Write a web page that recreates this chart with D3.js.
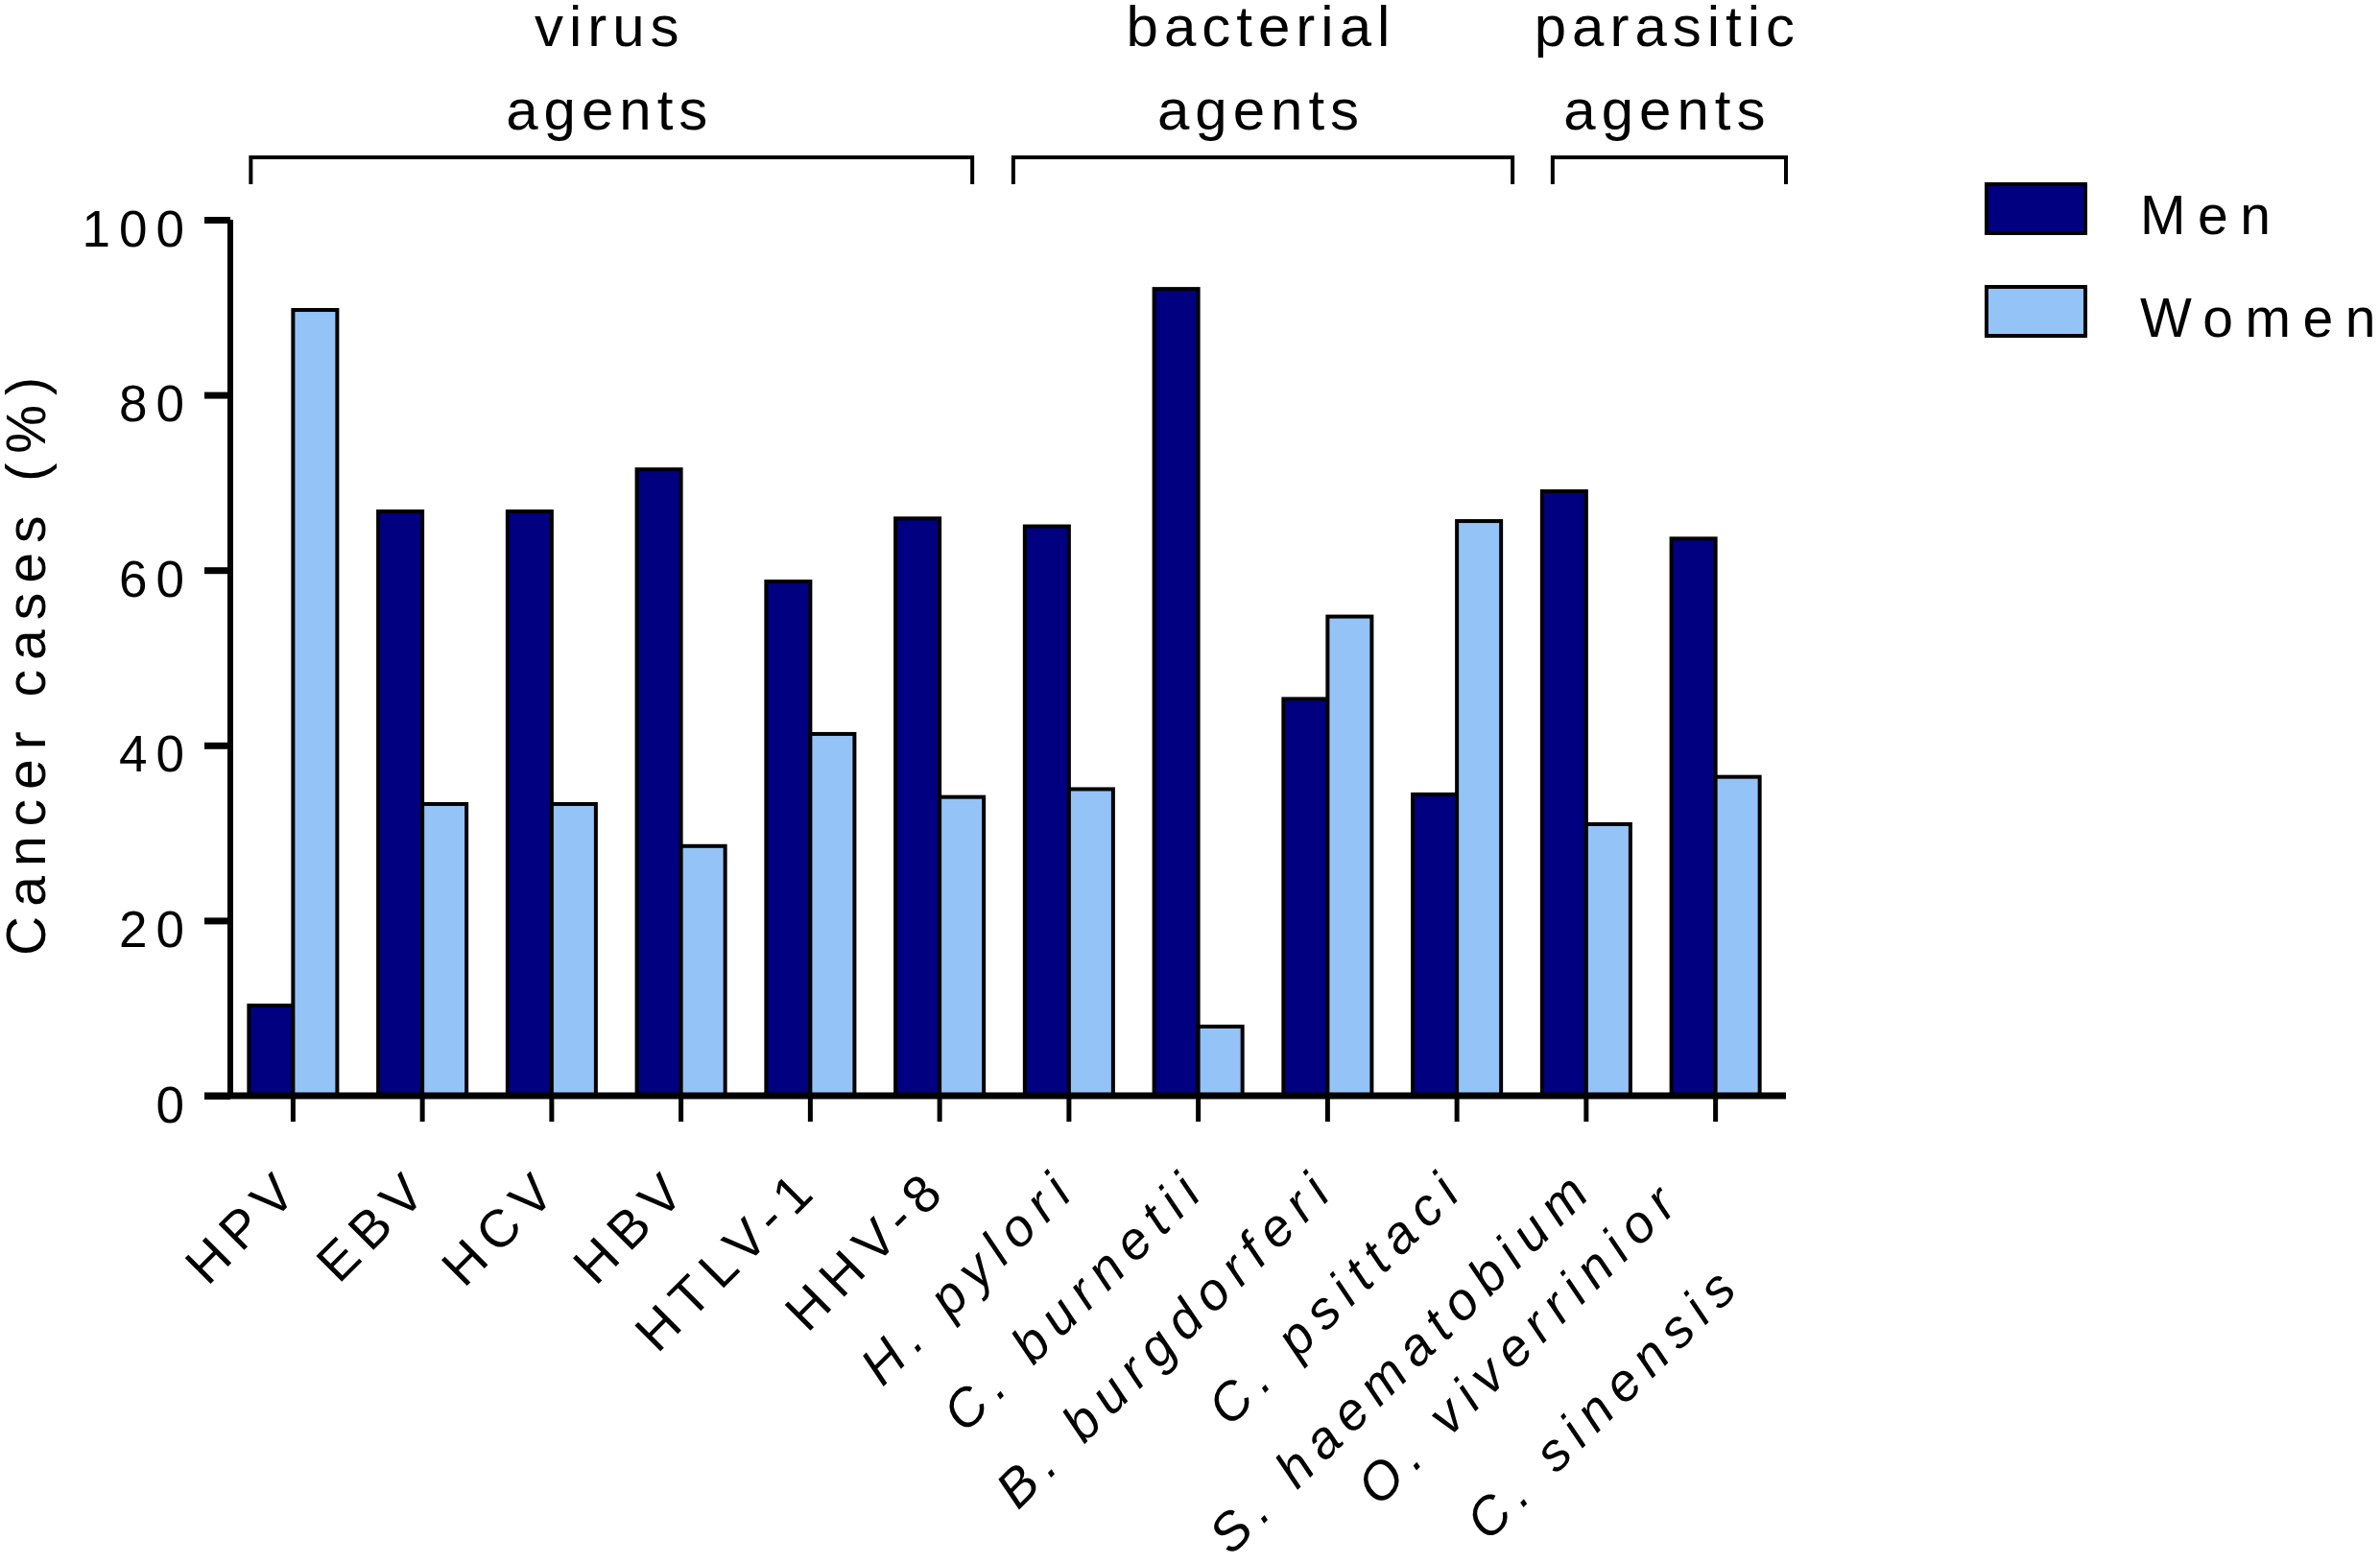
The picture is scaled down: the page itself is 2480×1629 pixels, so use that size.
<!DOCTYPE html>
<html>
<head>
<meta charset="utf-8">
<script src="https://cdn.jsdelivr.net/npm/d3@7"></script>
<style>
  body { margin: 0; background: #fff; }
  text { font-family: "Liberation Sans", Arial, Helvetica, sans-serif; fill: #000; }
</style>
</head>
<body>
<script>
/* Chart data */
var agents = ['HPV', 'EBV', 'HCV', 'HBV', 'HTLV-1', 'HHV-8',
              'H. pylori', 'C. burnetii', 'B. burgdorferi', 'C. psittaci',
              'S. haematobium', 'O. viverrinior\nC. sinensis'];
var italicLabel = [false, false, false, false, false, false,
                   true, true, true, true, true, true];
var menPct   = [10.3, 66.7, 66.7, 71.5, 58.7, 65.9, 65.0, 92.1, 45.3, 34.4, 69.0, 63.6];
var womenPct = [89.7, 33.3, 33.3, 28.5, 41.3, 34.1, 35.0,  7.9, 54.7, 65.6, 31.0, 36.4];
var seriesNames = ['Men', 'Women'];
var seriesColors = ['#000080', '#94c3f7'];
var groupLabels = [['virus', 'agents'], ['bacterial', 'agents'], ['parasitic', 'agents']];
var groupFirst = [0, 6, 10];
var groupLast  = [5, 9, 11];
var yTicks = [0, 20, 40, 60, 80, 100];
var yTitle = 'Cancer cases (%)';

/* Build rows for the grouped bars */
var rows = agents.map(function (a, i) {
    return {agent: a, values: [menPct[i], womenPct[i]]};
});

var W = 2480, H = 1629;
var margin = {top: 229, left: 240, bottom: 1142};
var tickLen = 27;

var svg = d3.select('body')
    .append('svg')
    .attr('width', W)
    .attr('height', H);

/* Scales */
var x0 = d3.scaleBand()
    .domain(agents)
    .range([238, 1855])
    .paddingInner(0.317)
    .paddingOuter(0.1585);

var x1 = d3.scaleBand()
    .domain(seriesNames)
    .range([0, x0.bandwidth()]);

var y = d3.scaleLinear()
    .domain([0, 100])
    .range([margin.bottom, margin.top]);

/* Bars */
var grp = svg.append('g')
    .selectAll('g')
    .data(rows)
    .enter()
    .append('g')
    .attr('transform', function (d) { return 'translate(' + x0(d.agent) + ',0)'; });

grp.selectAll('rect')
    .data(function (d) {
        return d.values.map(function (v, k) { return {key: seriesNames[k], k: k, v: v}; });
    })
    .enter()
    .append('rect')
    .attr('x', function (d) { return x1(d.key); })
    .attr('y', function (d) { return y(d.v); })
    .attr('width', x1.bandwidth())
    .attr('height', function (d) { return y(0) - y(d.v); })
    .attr('fill', function (d) { return seriesColors[d.k]; })
    .attr('stroke', '#000')
    .attr('stroke-width', 4);

/* Y axis */
var yAxis = svg.append('g')
    .attr('transform', 'translate(' + margin.left + ',0)')
    .call(d3.axisLeft(y).tickValues(yTicks).tickSize(tickLen).tickPadding(12));
yAxis.select('.domain')
    .attr('d', 'M0,' + y(100) + 'V' + y(0))
    .attr('stroke-width', 6);
yAxis.selectAll('.tick line').attr('stroke-width', 7);
yAxis.selectAll('.tick text')
    .attr('font-size', 53)
    .attr('letter-spacing', 9)
    .attr('dy', 27)
    .attr('font-family', '"Liberation Sans", Arial, sans-serif');

/* X axis */
var xAxis = svg.append('g')
    .attr('transform', 'translate(0,' + y(0) + ')')
    .call(d3.axisBottom(x0).tickSize(tickLen).tickFormat(''));
xAxis.select('.domain')
    .attr('d', 'M' + (margin.left - tickLen) + ',0H' + (x0.range()[1] + 6))
    .attr('stroke-width', 7);
xAxis.selectAll('.tick line').attr('stroke-width', 5);

/* Rotated category labels */
var labels = svg.append('g')
    .selectAll('text')
    .data(agents)
    .enter()
    .append('text')
    .attr('transform', function (d) {
        var cx = x0(d) + x0.bandwidth() / 2 + 12;
        return 'translate(' + cx + ',' + (y(0) + 98) + ') rotate(-45)';
    })
    .attr('text-anchor', 'end')
    .attr('font-size', 55)
    .attr('letter-spacing', 10)
    .attr('font-style', function (d, i) { return italicLabel[i] ? 'italic' : 'normal'; });

labels.each(function (d) {
    var lines = d.split('\n');
    var t = d3.select(this);
    if (lines.length === 1) {
        t.text(d);
    } else {
        // two-line label, second line set lower and a little back
        t.append('tspan').attr('x', -39).attr('y', -22).text(lines[0]);
        t.append('tspan').attr('x', -57).attr('y', 84).text(lines[1]);
    }
});

/* Y axis title */
svg.append('text')
    .attr('transform', 'translate(47,' + ((y(0) + y(100)) / 2 + 4) + ') rotate(-90)')
    .attr('text-anchor', 'middle')
    .attr('font-size', 57)
    .attr('letter-spacing', 10)
    .text(yTitle);

/* Group brackets with labels above (small hand offsets as in the figure) */
var bracketY = 164, bracketDrop = 28;
var bracketTrim = [[2, -12], [-12, 12], [11, 0]];
groupLabels.forEach(function (lab, g) {
    var left = x0(agents[groupFirst[g]]) + bracketTrim[g][0];
    var right = x0(agents[groupLast[g]]) + x0.bandwidth() + bracketTrim[g][1];
    if (g === groupLabels.length - 1) right = x0.range()[1] + 6;
    svg.append('path')
        .attr('d', 'M' + left + ',' + (bracketY + bracketDrop) + 'V' + bracketY +
              'H' + right + 'V' + (bracketY + bracketDrop))
        .attr('fill', 'none')
        .attr('stroke', '#000')
        .attr('stroke-width', 4);
    var mid = (left + right) / 2 - 2;
    svg.append('text')
        .attr('x', mid).attr('y', 48)
        .attr('text-anchor', 'middle')
        .attr('font-size', 60)
        .attr('letter-spacing', 6)
        .text(lab[0]);
    svg.append('text')
        .attr('x', mid).attr('y', 135)
        .attr('text-anchor', 'middle')
        .attr('font-size', 60)
        .attr('letter-spacing', 6)
        .text(lab[1]);
});

/* Legend */
var legend = svg.append('g')
    .selectAll('g')
    .data(seriesNames)
    .enter()
    .append('g')
    .attr('transform', function (d, i) { return 'translate(2070,' + (192 + i * 107) + ')'; });
legend.append('rect')
    .attr('width', 103)
    .attr('height', 51)
    .attr('fill', function (d, i) { return seriesColors[i]; })
    .attr('stroke', '#000')
    .attr('stroke-width', 4);
legend.append('text')
    .attr('x', 160)
    .attr('y', 52)
    .attr('font-size', 57)
    .attr('letter-spacing', 12.5)
    .text(function (d) { return d; });
</script>
</body>
</html>
